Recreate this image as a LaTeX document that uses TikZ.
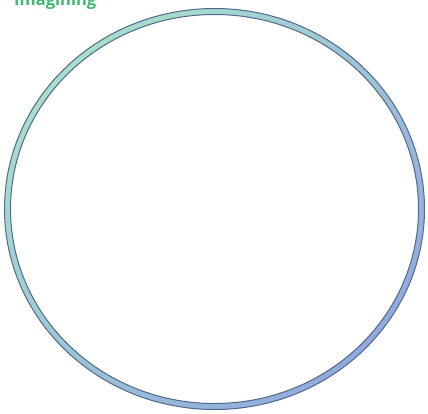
\documentclass[tikz,border=0pt]{standalone}
\usepackage{fontspec}
\setmainfont{Open Sans}
\definecolor{ringteal}{RGB}{168,222,204}
\definecolor{ringblue}{RGB}{146,170,222}
\definecolor{ringedge}{RGB}{80,105,140}
\definecolor{titlegreen}{RGB}{60,185,110}
\begin{document}
\begin{tikzpicture}[x=1pt,y=-1pt,
  ringedge/.style={draw=ringedge, line width=1pt},
  titletext/.style={text=titlegreen, font=\fontsize{16.5}{19}\selectfont\bfseries, inner sep=0pt, anchor=base west}]
\useasboundingbox (0,0) rectangle (428,414);
\coordinate (c) at (214.5,209);
\shade[even odd rule, left color=ringteal, right color=ringblue, shading angle=45]
  (c) ellipse [x radius=210, y radius=200.5]
  (c) ellipse [x radius=204, y radius=194.5];
\draw[ringedge] (c) ellipse [x radius=210, y radius=200.5];
\draw[ringedge] (c) ellipse [x radius=204, y radius=194.5];
\node[titletext] (title) at (14,5.5) {Imagining};
\end{tikzpicture}
\end{document}
